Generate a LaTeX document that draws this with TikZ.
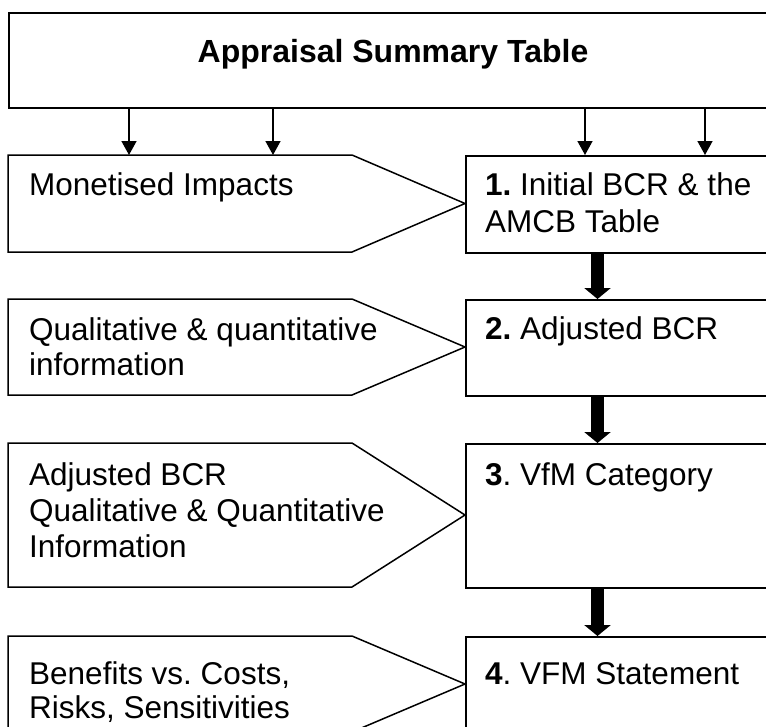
\documentclass[tikz,border=0pt]{standalone}
\usepackage{fontspec}
\setmainfont{Liberation Sans}
\usetikzlibrary{arrows.meta}
\frenchspacing
\begin{document}
\begin{tikzpicture}[x=1pt,y=-1pt,
  box/.style={draw, line width=1.5pt, rectangle, inner sep=0pt},
  shp/.style={draw, line width=1.5pt},
  txt/.style={anchor=base west, inner sep=0pt, font=\fontsize{31.5}{36}\selectfont},
  ttl/.style={anchor=base, inner sep=0pt, font=\fontsize{32}{38}\selectfont\bfseries},
  arr/.style={line width=1.5pt, -{Triangle[width=15pt,length=14pt]}},
  bigarr/.style={line width=13pt, -{Triangle[width=26pt,length=11pt]}}]
\useasboundingbox (0,0) rectangle (766,726);
\clip (0,0) rectangle (766,726);
% top box
\node[box, anchor=north west, minimum width=790pt, minimum height=95pt] (ast) at (8,12) {};
\node[ttl] (title) at (393,62) {Appraisal Summary Table};
% right boxes
\node[box, anchor=north west, minimum width=330pt, minimum height=97pt] (r1) at (465,155) {};
\node[box, anchor=north west, minimum width=330pt, minimum height=96pt] (r2) at (465,299) {};
\node[box, anchor=north west, minimum width=330pt, minimum height=144pt] (r3) at (465,443) {};
\node[box, anchor=north west, minimum width=330pt, minimum height=100pt] (r4) at (465,636) {};
% left pentagons
\draw[shp] (8,155) -- (352,155) -- (465,203.5) -- (352,252) -- (8,252) -- cycle;
\draw[shp] (8,299) -- (352,299) -- (465,347) -- (352,395) -- (8,395) -- cycle;
\draw[shp] (8,443) -- (352,443) -- (465,515) -- (352,587) -- (8,587) -- cycle;
\draw[shp] (8,636) -- (352,636) -- (465,684) -- (352,732) -- (8,732) -- cycle;
% texts left
\node[txt] (l1a) at (29,195) {Monetised Impacts};
\node[txt] (l2a) at (29,340) {Qualitative \& quantitative};
\node[txt] (l2b) at (29,375) {information};
\node[txt] (l3a) at (29,485) {Adjusted BCR};
\node[txt] (l3b) at (29,521) {Qualitative \& Quantitative};
\node[txt] (l3c) at (29,557) {Information};
\node[txt] (l4a) at (29,684) {Benefits vs. Costs,};
\node[txt] (l4b) at (29,718) {Risks, Sensitivities};
% texts right
\node[txt] (r1a) at (485,195) {\textbf{1.} Initial BCR \& the};
\node[txt] (r1b) at (485,232) {AMCB Table};
\node[txt] (r2a) at (485,339) {\textbf{2.} Adjusted BCR};
\node[txt] (r3a) at (485,485) {\textbf{3}. VfM Category};
\node[txt] (r4a) at (485,684) {\textbf{4}. VFM Statement};
% thin arrows
\coordinate (a1) at (129,155);
\coordinate (a2) at (273,155);
\coordinate (a3) at (585,155);
\coordinate (a4) at (705,155);
\draw[arr] (ast.south -| a1) -- (a1);
\draw[arr] (ast.south -| a2) -- (a2);
\draw[arr] (ast.south -| a3) -- (r1.north -| a3);
\draw[arr] (ast.south -| a4) -- (r1.north -| a4);
% thick arrows
\coordinate (cx) at (597.5,0);
\draw[bigarr] (r1.south -| cx) -- (r2.north -| cx);
\draw[bigarr] (r2.south -| cx) -- (r3.north -| cx);
\draw[bigarr] (r3.south -| cx) -- (r4.north -| cx);
\end{tikzpicture}
\end{document}
